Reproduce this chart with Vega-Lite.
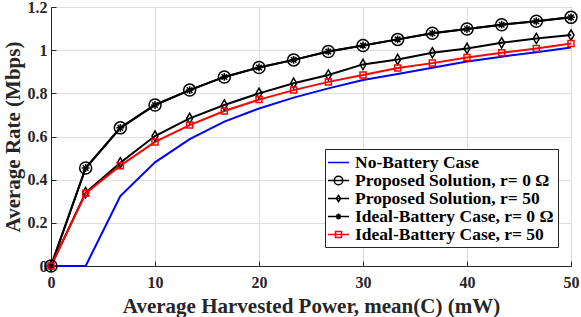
{
  "$schema": "https://vega.github.io/schema/vega-lite/v6.json",
  "autosize": {"type": "none"},
  "padding": {"left": 51, "top": 7, "right": 10, "bottom": 51},
  "width": 520,
  "height": 259,
  "background": "white",
  "config": {
    "font": "Liberation Serif",
    "view": {"stroke": "#262626", "strokeWidth": 1},
    "axis": {
      "labelFont": "Liberation Serif",
      "labelFontWeight": "bold",
      "labelFontSize": 16,
      "labelColor": "#262626",
      "labelFlush": false,
      "titleFont": "Liberation Serif",
      "titleFontWeight": "bold",
      "titleFontSize": 21,
      "titleColor": "#262626",
      "domainColor": "#262626",
      "tickColor": "#262626",
      "gridColor": "#dedede",
      "gridWidth": 1,
      "tickSize": -5
    }
  },
  "data": {
    "values": [
      {"x": 0, "y": 0, "s": "No-Battery Case"},
      {"x": 3.333, "y": 0, "s": "No-Battery Case"},
      {"x": 6.667, "y": 0.324, "s": "No-Battery Case"},
      {"x": 10, "y": 0.48, "s": "No-Battery Case"},
      {"x": 13.333, "y": 0.588, "s": "No-Battery Case"},
      {"x": 16.667, "y": 0.669, "s": "No-Battery Case"},
      {"x": 20, "y": 0.73, "s": "No-Battery Case"},
      {"x": 23.333, "y": 0.78, "s": "No-Battery Case"},
      {"x": 26.667, "y": 0.823, "s": "No-Battery Case"},
      {"x": 30, "y": 0.862, "s": "No-Battery Case"},
      {"x": 33.333, "y": 0.89, "s": "No-Battery Case"},
      {"x": 36.667, "y": 0.919, "s": "No-Battery Case"},
      {"x": 40, "y": 0.947, "s": "No-Battery Case"},
      {"x": 43.333, "y": 0.97, "s": "No-Battery Case"},
      {"x": 46.667, "y": 0.99, "s": "No-Battery Case"},
      {"x": 50, "y": 1.012, "s": "No-Battery Case"},

      {"x": 0, "y": 0, "s": "Proposed Solution, r= 0 Ω"},
      {"x": 3.333, "y": 0.454, "s": "Proposed Solution, r= 0 Ω"},
      {"x": 6.667, "y": 0.64, "s": "Proposed Solution, r= 0 Ω"},
      {"x": 10, "y": 0.746, "s": "Proposed Solution, r= 0 Ω"},
      {"x": 13.333, "y": 0.815, "s": "Proposed Solution, r= 0 Ω"},
      {"x": 16.667, "y": 0.876, "s": "Proposed Solution, r= 0 Ω"},
      {"x": 20, "y": 0.92, "s": "Proposed Solution, r= 0 Ω"},
      {"x": 23.333, "y": 0.955, "s": "Proposed Solution, r= 0 Ω"},
      {"x": 26.667, "y": 0.994, "s": "Proposed Solution, r= 0 Ω"},
      {"x": 30, "y": 1.022, "s": "Proposed Solution, r= 0 Ω"},
      {"x": 33.333, "y": 1.05, "s": "Proposed Solution, r= 0 Ω"},
      {"x": 36.667, "y": 1.078, "s": "Proposed Solution, r= 0 Ω"},
      {"x": 40, "y": 1.098, "s": "Proposed Solution, r= 0 Ω"},
      {"x": 43.333, "y": 1.118, "s": "Proposed Solution, r= 0 Ω"},
      {"x": 46.667, "y": 1.134, "s": "Proposed Solution, r= 0 Ω"},
      {"x": 50, "y": 1.152, "s": "Proposed Solution, r= 0 Ω"},

      {"x": 0, "y": 0, "s": "Proposed Solution, r= 50"},
      {"x": 3.333, "y": 0.34, "s": "Proposed Solution, r= 50"},
      {"x": 6.667, "y": 0.478, "s": "Proposed Solution, r= 50"},
      {"x": 10, "y": 0.602, "s": "Proposed Solution, r= 50"},
      {"x": 13.333, "y": 0.684, "s": "Proposed Solution, r= 50"},
      {"x": 16.667, "y": 0.746, "s": "Proposed Solution, r= 50"},
      {"x": 20, "y": 0.8, "s": "Proposed Solution, r= 50"},
      {"x": 23.333, "y": 0.847, "s": "Proposed Solution, r= 50"},
      {"x": 26.667, "y": 0.885, "s": "Proposed Solution, r= 50"},
      {"x": 30, "y": 0.934, "s": "Proposed Solution, r= 50"},
      {"x": 33.333, "y": 0.957, "s": "Proposed Solution, r= 50"},
      {"x": 36.667, "y": 0.988, "s": "Proposed Solution, r= 50"},
      {"x": 40, "y": 1.008, "s": "Proposed Solution, r= 50"},
      {"x": 43.333, "y": 1.034, "s": "Proposed Solution, r= 50"},
      {"x": 46.667, "y": 1.054, "s": "Proposed Solution, r= 50"},
      {"x": 50, "y": 1.07, "s": "Proposed Solution, r= 50"},

      {"x": 0, "y": 0, "s": "Ideal-Battery Case, r= 0 Ω"},
      {"x": 3.333, "y": 0.454, "s": "Ideal-Battery Case, r= 0 Ω"},
      {"x": 6.667, "y": 0.64, "s": "Ideal-Battery Case, r= 0 Ω"},
      {"x": 10, "y": 0.746, "s": "Ideal-Battery Case, r= 0 Ω"},
      {"x": 13.333, "y": 0.815, "s": "Ideal-Battery Case, r= 0 Ω"},
      {"x": 16.667, "y": 0.876, "s": "Ideal-Battery Case, r= 0 Ω"},
      {"x": 20, "y": 0.92, "s": "Ideal-Battery Case, r= 0 Ω"},
      {"x": 23.333, "y": 0.955, "s": "Ideal-Battery Case, r= 0 Ω"},
      {"x": 26.667, "y": 0.994, "s": "Ideal-Battery Case, r= 0 Ω"},
      {"x": 30, "y": 1.022, "s": "Ideal-Battery Case, r= 0 Ω"},
      {"x": 33.333, "y": 1.05, "s": "Ideal-Battery Case, r= 0 Ω"},
      {"x": 36.667, "y": 1.078, "s": "Ideal-Battery Case, r= 0 Ω"},
      {"x": 40, "y": 1.098, "s": "Ideal-Battery Case, r= 0 Ω"},
      {"x": 43.333, "y": 1.118, "s": "Ideal-Battery Case, r= 0 Ω"},
      {"x": 46.667, "y": 1.134, "s": "Ideal-Battery Case, r= 0 Ω"},
      {"x": 50, "y": 1.152, "s": "Ideal-Battery Case, r= 0 Ω"},

      {"x": 0, "y": 0, "s": "Ideal-Battery Case, r= 50"},
      {"x": 3.333, "y": 0.337, "s": "Ideal-Battery Case, r= 50"},
      {"x": 6.667, "y": 0.465, "s": "Ideal-Battery Case, r= 50"},
      {"x": 10, "y": 0.575, "s": "Ideal-Battery Case, r= 50"},
      {"x": 13.333, "y": 0.653, "s": "Ideal-Battery Case, r= 50"},
      {"x": 16.667, "y": 0.718, "s": "Ideal-Battery Case, r= 50"},
      {"x": 20, "y": 0.771, "s": "Ideal-Battery Case, r= 50"},
      {"x": 23.333, "y": 0.815, "s": "Ideal-Battery Case, r= 50"},
      {"x": 26.667, "y": 0.853, "s": "Ideal-Battery Case, r= 50"},
      {"x": 30, "y": 0.885, "s": "Ideal-Battery Case, r= 50"},
      {"x": 33.333, "y": 0.917, "s": "Ideal-Battery Case, r= 50"},
      {"x": 36.667, "y": 0.94, "s": "Ideal-Battery Case, r= 50"},
      {"x": 40, "y": 0.966, "s": "Ideal-Battery Case, r= 50"},
      {"x": 43.333, "y": 0.988, "s": "Ideal-Battery Case, r= 50"},
      {"x": 46.667, "y": 1.008, "s": "Ideal-Battery Case, r= 50"},
      {"x": 50, "y": 1.031, "s": "Ideal-Battery Case, r= 50"}
    ]
  },
  "encoding": {
    "x": {
      "field": "x", "type": "quantitative",
      "scale": {"domain": [0, 50], "nice": false},
      "axis": {"values": [0, 10, 20, 30, 40, 50], "title": "Average Harvested Power, mean(C) (mW)", "labelPadding": 13, "titlePadding": 5, "grid": true}
    },
    "y": {
      "field": "y", "type": "quantitative",
      "scale": {"domain": [0, 1.2], "nice": false},
      "axis": {"values": [0, 0.2, 0.4, 0.6, 0.8, 1, 1.2], "labelExpr": "'' + datum.value", "title": "Average Rate (Mbps)", "labelPadding": 9, "titlePadding": 4, "grid": true}
    },
    "color": {
      "field": "s", "type": "nominal",
      "scale": {
        "domain": ["No-Battery Case", "Proposed Solution, r= 0 Ω", "Proposed Solution, r= 50", "Ideal-Battery Case, r= 0 Ω", "Ideal-Battery Case, r= 50"],
        "range": ["#0000ff", "#000000", "#000000", "#000000", "#ff0000"]
      },
      "legend": {
        "title": null,
        "orient": "none",
        "legendX": 274,
        "legendY": 142,
        "fillColor": "white",
        "strokeColor": "#262626",
        "padding": 4,
        "cornerRadius": 0,
        "labelFont": "Liberation Serif",
        "labelFontWeight": "bold",
        "labelFontSize": 17.5,
        "labelColor": "#000000",
        "labelLimit": 400,
        "symbolSize": 289,
        "symbolStrokeWidth": 1.5,
        "symbolFillColor": "transparent",
        "symbolType": {"expr": "datum.value === 'No-Battery Case' ? 'M-1.24,0L1.24,0' : datum.value === 'Proposed Solution, r= 0 Ω' ? 'M-1.24,0L1.24,0M0.5,0A0.5,0.5 0 1,1 -0.5,0A0.5,0.5 0 1,1 0.5,0Z' : datum.value === 'Proposed Solution, r= 50' ? 'M-1.24,0L1.24,0M0,-0.36L0.24,0L0,0.36L-0.24,0Z' : datum.value === 'Ideal-Battery Case, r= 0 Ω' ? 'M-1.24,0L1.24,0M0,-0.34L0,0.34M-0.24,-0.24L0.24,0.24M-0.24,0.24L0.24,-0.24' : 'M-1.24,0L1.24,0M-0.35,-0.35L0.35,-0.35L0.35,0.35L-0.35,0.35Z'"},
        "rowPadding": 0,
        "labelOffset": 7
      }
    }
  },
  "layer": [
    {
      "mark": {"type": "line", "strokeWidth": 2},
      "encoding": {"detail": {"field": "s"}}
    },
    {
      "transform": [
        {"filter": "datum.s !== 'No-Battery Case'"},
        {"window": [{"op": "first_value", "field": "s", "as": "m"}], "groupby": ["s"]}
      ],
      "mark": {"type": "point", "filled": false, "strokeWidth": 1.5, "size": 144, "opacity": 1},
      "encoding": {
        "shape": {
          "field": "m", "type": "nominal",
          "scale": {
            "domain": ["Proposed Solution, r= 0 Ω", "Proposed Solution, r= 50", "Ideal-Battery Case, r= 0 Ω", "Ideal-Battery Case, r= 50"],
            "range": [
              "M1,0A1,1 0 1,1 -1,0A1,1 0 1,1 1,0Z",
              "M0,-0.85L0.5,0L0,0.85L-0.5,0Z",
              "M-0.65,0L0.65,0M0,-0.65L0,0.65M-0.46,-0.46L0.46,0.46M-0.46,0.46L0.46,-0.46",
              "M-0.5,-0.5L0.5,-0.5L0.5,0.5L-0.5,0.5Z"
            ]
          },
          "legend": null
        }
      }
    }
  ]
}
